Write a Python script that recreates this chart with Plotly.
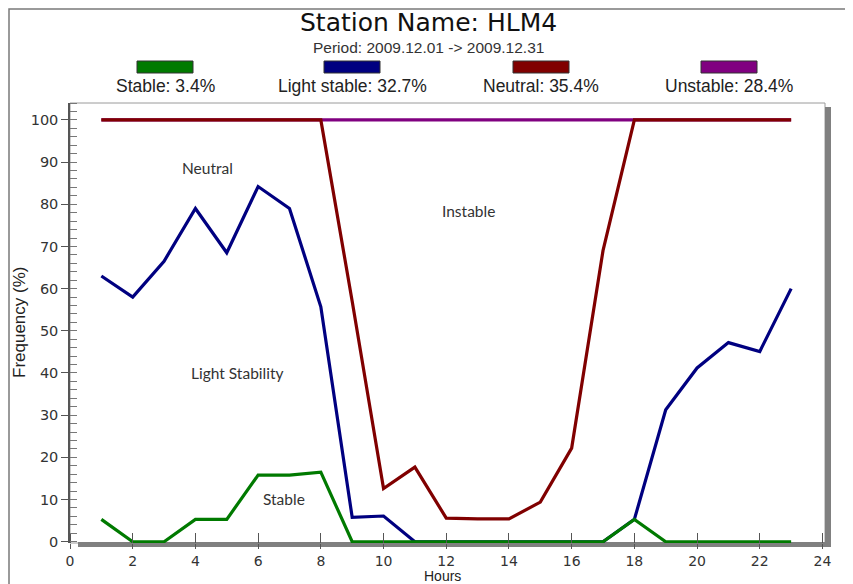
import plotly.graph_objects as go

hours = list(range(1, 24))
stable = [5.3, 0, 0, 5.3, 5.3, 15.8, 15.8, 16.5, 0, 0, 0, 0, 0, 0, 0, 0, 0, 5.3, 0, 0, 0, 0, 0]
light_stable = [63, 58, 66.5, 79, 68.5, 84.2, 79, 55.7, 5.8, 6.1, 0, 0, 0, 0, 0, 0, 0, 5.3, 31.3, 41.2, 47.2, 45.1, 60]
neutral = [100, 100, 100, 100, 100, 100, 100, 100, 57, 12.6, 17.7, 5.6, 5.4, 5.4, 9.4, 22.2, 69, 100, 100, 100, 100, 100, 100]
unstable = [100] * 23

legend_labels = ["Stable: 3.4%", "Light stable: 32.7%", "Neutral: 35.4%", "Unstable: 28.4%"]
colors = ["#007a00", "#000080", "#800000", "#800080"]

region_labels = ["Neutral", "Instable", "Light Stability", "Stable"]
region_x = [4.37, 12.7, 5.33, 6.83]
region_y = [88.6, 78.4, 40.0, 10.2]

# page body has an 8px margin; reference pixel coordinates below are page coordinates
OFF = 8
W, H = 853 - OFF, 584 - OFF
L, R, T, B = 70, 825, 103, 543


def px(x):
    return (x - L) / (R - L)


def py(y):
    return (B - y) / (B - T)


fig = go.Figure()
series = [unstable, neutral, light_stable, stable]
scols = [colors[3], colors[2], colors[1], colors[0]]
names = [legend_labels[3], legend_labels[2], legend_labels[1], legend_labels[0]]
for s, c, n in zip(series, scols, names):
    fig.add_trace(go.Scatter(x=hours, y=s, mode="lines", name=n,
                             line=dict(color=c, width=3.2), showlegend=False))

shapes = []
annotations = []
# outer border
shapes.append(dict(type="rect", xref="paper", yref="paper",
                   x0=px(9), x1=px(870), y0=py(9), y1=py(620),
                   line=dict(color="#7a7a7a", width=1.5), layer="below"))
# plot frame
shapes.append(dict(type="rect", xref="paper", yref="paper",
                   x0=0, x1=1, y0=0, y1=1,
                   line=dict(color="#9a9a9a", width=1), layer="below"))
# shadow right and bottom
shapes.append(dict(type="rect", xref="paper", yref="paper",
                   x0=px(825), x1=px(831), y0=py(547), y1=py(107),
                   fillcolor="#808080", line=dict(width=0), layer="below"))
shapes.append(dict(type="rect", xref="paper", yref="paper",
                   x0=px(78), x1=px(831), y0=py(547), y1=py(542),
                   fillcolor="#808080", line=dict(width=0), layer="below"))

centers = [165, 352, 541, 729]
for cx, lab, col in zip(centers, legend_labels, colors):
    shapes.append(dict(type="rect", xref="paper", yref="paper",
                       x0=px(cx - 28), x1=px(cx + 28), y0=py(73), y1=py(61),
                       fillcolor=col, line=dict(color="#333333", width=1)))
    annotations.append(dict(text=lab, xref="paper", yref="paper",
                            x=px(cx), y=py(86), xanchor="center", yanchor="middle",
                            showarrow=False,
                            font=dict(family="Liberation Sans", size=17.5, color="#222222")))

annotations.append(dict(text="Station Name: HLM4", xref="paper", yref="paper",
                        x=px(428), y=py(22), xanchor="center", yanchor="middle",
                        showarrow=False,
                        font=dict(family="DejaVu Sans", size=25, color="#111111")))
annotations.append(dict(text="Period: 2009.12.01 -> 2009.12.31", xref="paper", yref="paper",
                        x=px(428), y=py(47), xanchor="center", yanchor="middle",
                        showarrow=False,
                        font=dict(family="Liberation Sans", size=15.5, color="#333333")))
annotations.append(dict(text="Hours", xref="paper", yref="paper",
                        x=px(442), y=py(576), xanchor="center", yanchor="middle",
                        showarrow=False,
                        font=dict(family="Liberation Sans", size=14, color="#222222")))
annotations.append(dict(text="Frequency (%)", xref="paper", yref="paper",
                        x=px(19), y=py(323), xanchor="center", yanchor="middle",
                        textangle=-90, showarrow=False,
                        font=dict(family="Liberation Sans", size=17, color="#222222")))

for t, xv, yv in zip(region_labels, region_x, region_y):
    annotations.append(dict(text=t, x=xv, y=yv, xref="x", yref="y",
                            xanchor="center", yanchor="middle", showarrow=False,
                            font=dict(family="Lato", size=15.5, color="#333333")))

ytickfont = dict(family="DejaVu Sans", size=14.5, color="#333333")
xtickfont = dict(family="DejaVu Sans", size=14, color="#333333")
fig.update_layout(
    width=W, height=H,
    margin=dict(l=L - OFF, r=853 - R, t=T - OFF, b=584 - B),
    paper_bgcolor="white", plot_bgcolor="white",
    shapes=shapes, annotations=annotations,
    xaxis=dict(range=[0, 24.08], tickmode="linear", tick0=0, dtick=2,
               ticks="outside", ticklen=5, tickwidth=1.2, tickcolor="#555555",
               minor=dict(ticks="inside", ticklen=10, tickwidth=1.2, tickcolor="#555555",
                          tickmode="linear", tick0=0, dtick=2),
               showgrid=False, zeroline=False, showline=False,
               tickfont=xtickfont),
    yaxis=dict(range=[-0.3, 104], tickmode="linear", tick0=0, dtick=10,
               ticks="outside", ticklen=7, tickwidth=1.2, tickcolor="#555555",
               minor=dict(ticks="inside", ticklen=7, tickwidth=1, tickcolor="#777777",
                          tickmode="linear", tick0=0, dtick=2),
               showgrid=False, zeroline=False, showline=True, linecolor="#555555",
               linewidth=1.5, tickfont=ytickfont),
)

fig.write_html("out.html")
